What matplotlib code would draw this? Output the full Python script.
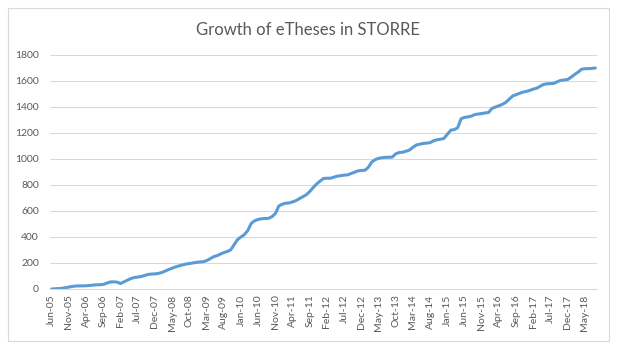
import matplotlib

matplotlib.use("Agg")
import matplotlib.pyplot as plt
from matplotlib.patches import Rectangle

# Monthly eThesis totals, Jun-05 .. Aug-18
theses = [
    0, 2, 3, 5, 10, 15, 20, 23, 24, 24,
    25, 27, 30, 32, 33, 35, 45, 54, 55, 53,
    42, 55, 68, 80, 88, 92, 96, 104, 112, 115,
    116, 120, 127, 138, 150, 160, 170, 178, 185, 192,
    196, 200, 205, 208, 210, 218, 232, 248, 256, 268,
    280, 288, 300, 340, 380, 400, 418, 450, 505, 525,
    535, 540, 543, 543, 556, 580, 638, 652, 660, 662,
    670, 680, 695, 710, 725, 750, 780, 808, 830, 850,
    852, 852, 860, 868, 872, 876, 878, 888, 898, 908,
    912, 913, 935, 975, 995, 1005, 1010, 1013, 1013, 1015,
    1040, 1050, 1052, 1060, 1069, 1090, 1108, 1114, 1120, 1122,
    1126, 1140, 1148, 1152, 1158, 1190, 1222, 1226, 1240, 1310,
    1320, 1324, 1330, 1342, 1346, 1350, 1354, 1358, 1390, 1400,
    1410, 1420, 1436, 1460, 1485, 1495, 1505, 1515, 1520, 1528,
    1538, 1545, 1560, 1574, 1578, 1580, 1582, 1595, 1605, 1608,
    1612, 1630, 1650, 1668, 1690, 1695, 1695, 1697, 1700,
]

# category labels shown on the axis (every fifth month)
tick_labels = [
    "Jun-05", "Nov-05", "Apr-06", "Sep-06", "Feb-07", "Jul-07", "Dec-07",
    "May-08", "Oct-08", "Mar-09", "Aug-09", "Jan-10", "Jun-10", "Nov-10",
    "Apr-11", "Sep-11", "Feb-12", "Jul-12", "Dec-12", "May-13", "Oct-13",
    "Mar-14", "Aug-14", "Jan-15", "Jun-15", "Nov-15", "Apr-16", "Sep-16",
    "Feb-17", "Jul-17", "Dec-17", "May-18",
]
tick_step = 5
y_ticks = [0, 200, 400, 600, 800, 1000, 1200, 1400, 1600, 1800]

plt.rcParams["font.family"] = ["Lato", "DejaVu Sans"]
W, H = 623, 351
fig = plt.figure(figsize=(W / 100, H / 100), dpi=100)

# chart frame
fig.patches.append(Rectangle((8 / W, 10 / H), 601 / W, 333 / H, transform=fig.transFigure,
                             fill=False, edgecolor="#d9d9d9", linewidth=0.8))

ax = fig.add_axes([50 / W, 62 / H, 547 / W, 234 / H])
x = list(range(len(theses)))
ax.plot(x, theses, color="#5b9bd5", linewidth=2.2, solid_capstyle="round")

ax.set_xlim(-0.5, len(theses) - 0.5)
ax.set_ylim(0, 1800)
ax.set_yticks(y_ticks)
ax.set_xticks(list(range(0, len(tick_labels) * tick_step, tick_step)))
ax.set_xticklabels(tick_labels, rotation=90)
ax.tick_params(axis="both", length=0, labelsize=7.5, labelcolor="#595959")
ax.tick_params(axis="y", pad=8)
ax.tick_params(axis="x", pad=4)

ax.grid(axis="y", color="#d9d9d9", linewidth=0.75)
ax.set_axisbelow(True)
for side in ("top", "right", "left"):
    ax.spines[side].set_visible(False)
ax.spines["bottom"].set_color("#d9d9d9")
ax.spines["bottom"].set_linewidth(0.75)

fig.text(308 / W, 1 - 30 / H, "Growth of eTheses in STORRE", ha="center", va="center",
         fontsize=12, color="#595959")

fig.savefig("out.png", dpi=100)
